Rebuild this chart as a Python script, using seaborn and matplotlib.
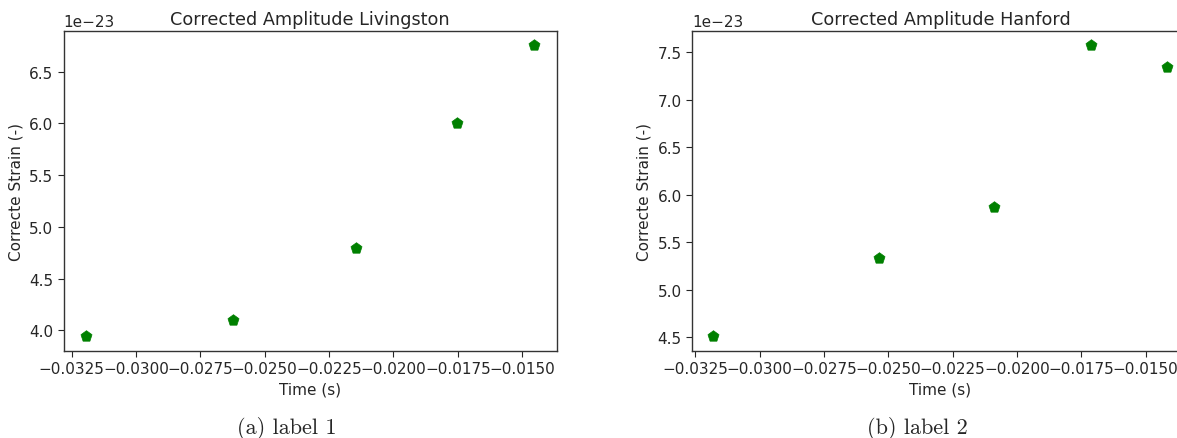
import matplotlib
matplotlib.use("Agg")
import matplotlib.pyplot as plt
import seaborn as sns
import pandas as pd

# Data
time_liv = [-0.03194, -0.02624, -0.02147, -0.01755, -0.01453]
amp_liv = [3.945e-23, 4.10e-23, 4.80e-23, 6.00e-23, 6.757e-23]
time_han = [-0.0318, -0.02535, -0.0209, -0.01713, -0.01415]
amp_han = [4.51e-23, 5.337e-23, 5.873e-23, 7.577e-23, 7.346e-23]
titles = ["Corrected Amplitude Livingston", "Corrected Amplitude Hanford"]
captions = ["(a) label 1", "(b) label 2"]
xticks = [-0.0325, -0.03, -0.0275, -0.025, -0.0225, -0.02, -0.0175, -0.015]
xticklabels = ["\u22120.0325", "\u22120.0300", "\u22120.0275", "\u22120.0250",
               "\u22120.0225", "\u22120.0200", "\u22120.0175", "\u22120.0150"]
xlabel = "Time (s)"
ylabel = "Correcte Strain (-)"

sns.set_style("ticks")
plt.rcParams["font.family"] = ["DejaVu Sans"]
plt.rcParams["font.sans-serif"] = ["DejaVu Sans"]

fig = plt.figure(figsize=(11.77, 4.39), dpi=100)
ax1 = fig.add_axes([0.054, 0.199, 0.419, 0.729])
ax2 = fig.add_axes([0.588, 0.199, 0.422, 0.729])

datasets = [(time_liv, amp_liv), (time_han, amp_han)]
for ax, (t, a), title in zip([ax1, ax2], datasets, titles):
    df = pd.DataFrame({"t": t, "a": a})
    sns.scatterplot(data=df, x="t", y="a", ax=ax, marker="p", s=70,
                    color="green", edgecolor="green", linewidth=0.5)
    ax.set_title(title, fontsize=12.7, pad=5)
    ax.set_xlabel(xlabel, fontsize=11)
    ax.set_ylabel(ylabel, fontsize=11)
    ax.tick_params(labelsize=11, length=4, width=0.8, color=".15")
    ax.yaxis.get_offset_text().set_fontsize(11)
    ax.set_xticks(xticks)
    ax.set_xticklabels(xticklabels)
    for sp in ax.spines.values():
        sp.set_color(".2")
        sp.set_linewidth(1.0)

ax1.set_xlim(-0.03281, -0.01366)
ax2.set_xlim(-0.03263, -0.01332)

fig.text(0.244, 0.025, captions[0], ha="center", va="center", fontsize=16, family="cmr10")
fig.text(0.779, 0.025, captions[1], ha="center", va="center", fontsize=16, family="cmr10")

fig.savefig("out.png", dpi=100)
